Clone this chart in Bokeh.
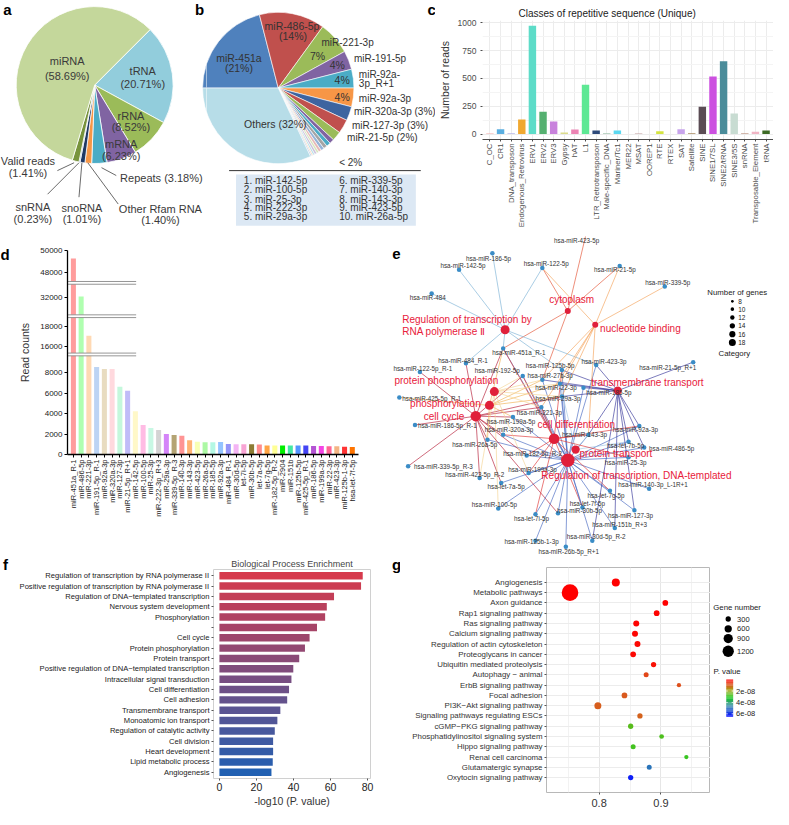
import numpy as np
from bokeh.plotting import figure
from bokeh.models import Range1d, FactorRange, FixedTicker, ColumnDataSource, LinearColorMapper
from bokeh.layouts import row, column
from bokeh.core.properties import value
from bokeh.embed import file_html
from bokeh.resources import INLINE

FONT = "Liberation Sans"
TXT = "#333333"

# ================= DATA =================
a_labels = ["tRNA", "rRNA", "mRNA", "Repeats", "Other Rfam RNA", "snoRNA", "snRNA", "Valid reads", "miRNA"]
a_values = [20.71, 8.52, 6.23, 3.18, 1.40, 1.01, 0.23, 1.41, 58.69]
a_colors = ["#92cddc", "#9bbb59", "#8064a2", "#4bacc6", "#f79646", "#1f3864", "#4f81bd", "#77933c", "#c4d79b"]

b_labels = ["miR-451a", "miR-486-5p", "miR-221-3p", "miR-191-5p", "miR-92a-3p_R+1", "miR-92a-3p",
            "miR-320a-3p", "miR-127-3p", "miR-21-5p",
            "miR-142-5p", "miR-100-5p", "miR-25-3p", "miR-222-3p", "miR-29a-3p",
            "miR-339-5p", "miR-140-3p", "miR-143-3p", "miR-423-5p", "miR-26a-5p", "Others"]
b_values = [21, 14, 7, 4, 4, 4, 3, 3, 2, 1.0, 0.9, 0.8, 0.7, 0.6, 0.5, 0.5, 0.4, 0.3, 0.3, 32]
b_colors = ["#4f81bd", "#c0504d", "#9bbb59", "#8064a2", "#4bacc6", "#f79646", "#3d64a0", "#c0504d",
            "#9bbb59", "#8064a2", "#4bacc6", "#a5a5a5", "#95b3d7", "#e6b9b8", "#d7e4bd", "#ccc1da",
            "#b7dee8", "#fcd5b5", "#b9cde5", "#b7dde8"]
b_list_left = ["1. miR-142-5p", "2. miR-100-5p", "3. miR-25-3p", "4. miR-222-3p", "5. miR-29a-3p"]
b_list_right = ["6. miR-339-5p", "7. miR-140-3p", "8. miR-143-3p", "9. miR-423-5p", "10. miR-26a-5p"]

c_classes = ["C_OC", "CR1", "DNA_transposon", "Endogenous_Retrovirus", "ERV1", "ERV2", "ERV3", "Gypsy", "hAT",
             "L1", "LTR_Retrotransposon", "Male-specific_DNA", "Mariner/Tc1", "MER22", "MSAT", "OOREP1", "RTE",
             "RTEX", "SAT", "Satellite", "SINE", "SINE1/7SL", "SINE2/tRNA", "SINE3/5S", "snRNA",
             "Transposable_Element", "tRNA"]
c_values = [5, 44, 8, 132, 972, 200, 112, 15, 41, 444, 33, 8, 33, 0, 5, 0, 25, 0, 44, 8, 245, 518, 654, 185, 8, 20, 33]
c_colors = ["#f4a6a6", "#5aaee0", "#b8b8e8", "#f0a830", "#5ddcc8", "#55b070", "#c882dc", "#dcdc8c", "#ec84b4",
            "#5ee894", "#2e4a7a", "#a8c8b4", "#5cd8f0", "#cccccc", "#c09a9a", "#cccccc", "#d4e440", "#cccccc",
            "#c8a4ec", "#a88a60", "#5a4c54", "#cc50e0", "#4a8c9a", "#c8dcd2", "#c4a090", "#f0b4c4", "#3c6a24"]

d_names = ["miR-451a_R-1", "miR-486-5p", "miR-221-3p", "miR-191-5p_R-1", "miR-92a-3p", "miR-320a-3p",
           "miR-127-3p", "miR-21-5p_R+1", "miR-142-5p", "miR-100-5p", "miR-25-3p", "miR-222-3p_R+3",
           "miR-29a-3p", "miR-339-5p_R-3", "miR-140-3p", "miR-143-3p", "miR-423-5p", "miR-26a-5p",
           "miR-185-5p", "miR-92a-3p", "miR-484_R-1", "miR-30d-5p", "let-7i-5p", "miR-30b-5p", "let-7a-5p",
           "let-7g-5p", "miR-182-5p_R-2", "miR-2904", "miR-151b", "miR-125b-5p", "miR-425-5p_R-1",
           "miR-186-5p", "miR-199a-3p", "miR-22-3p", "miR-423-3p", "miR-125b-1-3p", "hsa-let-7f-5p"]
d_values = [49270, 32100, 17050, 8560, 8370, 8370, 6630, 6250, 4230, 2900, 2600, 2400, 2020, 1920, 1830,
            1400, 1260, 1190, 1190, 1230, 1030, 1000, 1000, 1000, 970, 870, 870, 870, 870, 870, 870, 840,
            840, 800, 800, 770, 740]
d_colors = ["#ff9c9c", "#b0ffb0", "#ffd9b3", "#bcd4f4", "#e8dcc0", "#ffd9de", "#c4f8dc", "#c0bcf8", "#fff8c8",
            "#ffbce4", "#c8f8e4", "#d4d4d4", "#d484f8", "#b4a474", "#ff9494", "#ffb474", "#f8ffb4", "#acf8a4",
            "#b4f8e4", "#94c4ff", "#9494f8", "#f4b4f4", "#f8a4d4", "#8c7c34", "#ff8c8c", "#ffa444", "#ffff94",
            "#00ee00", "#44e8a4", "#5494ff", "#4444f4", "#b454d4", "#f444e4", "#ff6494", "#f4b484", "#ff3434",
            "#ff7400"]
d_tick_vals = [0, 2000, 4000, 6000, 8000, 16000, 18000, 32000, 48000, 50000]

e_cat_names = ["cytoplasm", "nucleotide binding", "Regulation of transcription by RNA polymerase Ⅱ",
               "protein phosphorylation", "transmembrane transport", "phosphorylation", "cell cycle",
               "cell differentiation", "protein transport", "Regulation of transcription, DNA-templated"]
e_cat_genes = [8, 8, 12, 12, 11, 12, 14, 14, 11, 18]
e_mir_names = ["hsa-miR-423-5p", "hsa-miR-186-5p", "hsa-miR-142-5p", "hsa-miR-122-5p", "hsa-miR-21-5p",
               "hsa-miR-339-5p", "hsa-miR-484", "hsa-miR-451a_R-1", "hsa-miR-484_R-1", "hsa-miR-122-5p_R-1",
               "hsa-miR-192-5p", "hsa-miR-125b-5p", "hsa-miR-423-3p", "hsa-miR-21-5p_R+1", "hsa-miR-27b-3p",
               "hsa-miR-22-3p", "hsa-miR-185-5p", "hsa-miR-425-5p_R-1", "hsa-miR-29a-3p", "hsa-miR-221-3p",
               "hsa-miR-199a-5p", "hsa-miR-186-5p_R-1", "hsa-miR-320a-3p", "hsa-miR-143-3p", "hsa-miR-92a-3p",
               "hsa-miR-26a-5p", "hsa-let-7b-5p", "hsa-miR-486-5p", "hsa-miR-182-5p_R-2", "hsa-miR-25-3p",
               "hsa-miR-339-5p_R-3", "hsa-miR-199a-3p", "hsa-miR-423-5p_R-2", "hsa-let-7a-5p",
               "hsa-miR-140-3p_L-1R+1", "hsa-let-7g-5p", "hsa-miR-100-5p", "hsa-let-7f-5p", "hsa-miR-30b-5p",
               "hsa-miR-127-3p", "hsa-let-7i-5p", "hsa-miR-151b_R+3", "hsa-miR-125b-1-3p",
               "hsa-miR-30d-5p_R-2", "hsa-miR-26b-5p_R+1"]
e_mir_targets = [[0], [2], [2], [2, 0, 1], [0, 1], [1], [2], [2, 6, 5, 9, 7, 0], [2, 6], [6], [3, 9, 6, 7],
                 [2, 9, 7, 4], [2, 4, 9], [4], [3, 5, 9, 4, 1, 0], [3, 5, 9, 8, 4, 1], [4, 9], [5],
                 [3, 5, 6, 9, 4, 1], [6, 3, 9, 7, 1], [6, 5, 9], [6], [6, 7, 9], [7, 9, 8, 4, 1], [4, 9, 7],
                 [6, 5, 9], [4, 9, 8], [4, 9], [9, 7, 6], [9, 7], [6], [9, 3, 7], [6, 3], [9, 6], [9], [9, 7],
                 [9, 3], [9, 7], [9, 6], [9, 4], [9, 7], [9, 4], [9], [9, 4], [9]]
e_legend_genes = [8, 10, 12, 14, 16, 18]

f_terms = ["Regulation of transcription by RNA polymerase II",
           "Positive regulation of transcription by RNA polymerase II",
           "Regulation of DNA\u2212templated transcription", "Nervous system development", "Phosphorylation", "",
           "Cell cycle", "Protein phosphorylation", "Protein transport",
           "Positive regulation of DNA\u2212templated transcription", "Intracellular signal transduction",
           "Cell differentiation", "Cell adhesion", "Transmembrane transport", "Monoatomic ion transport",
           "Regulation of catalytic activity", "Cell division", "Heart development", "Lipid metabolic process",
           "Angiogenesis"]
f_values = [77.4, 76.5, 61.9, 58.0, 57.1, 52.7, 48.7, 46.2, 43.1, 39.9, 38.9, 37.6, 36.6, 32.9, 31.3, 29.9,
            29.0, 29.0, 28.8, 28.1]
f_ticks = [0, 20, 40, 60, 80]

g_terms = ["Angiogenesis", "Metabolic pathways", "Axon guidance", "Rap1 signaling pathway",
           "Ras signaling pathway", "Calcium signaling pathway", "Regulation of actin cytoskeleton",
           "Proteoglycans in cancer", "Ubiquitin mediated proteolysis", "Autophagy \u2212 animal",
           "ErbB signaling pathway", "Focal adhesion", "PI3K\u2212Akt signaling pathway",
           "Signaling pathways regulating ESCs", "cGMP\u2212PKG signaling pathway",
           "Phosphatidylinositol signaling system", "Hippo signaling pathway", "Renal cell carcinoma",
           "Glutamatergic synapse", "Oxytocin signaling pathway"]
g_ratio = [0.827, 0.753, 0.907, 0.893, 0.860, 0.858, 0.862, 0.855, 0.888, 0.876, 0.929, 0.841, 0.798,
           0.866, 0.851, 0.901, 0.855, 0.941, 0.881, 0.851]
g_genes = [705, 2000, 360, 360, 405, 405, 405, 360, 300, 255, 150, 360, 555, 300, 300, 210, 255, 150, 255, 300]
g_pval = [1e-10, 1e-12, 2e-10, 3e-10, 5e-10, 6e-10, 8e-10, 1e-9, 2e-9, 7e-9, 8e-9, 9e-9, 9.5e-9, 1.0e-8,
          2.6e-8, 2.7e-8, 2.8e-8, 2.9e-8, 5.0e-8, 6.3e-8]
g_size_breaks = [300, 600, 900, 1200]
g_p_ticks = [2e-8, 4e-8, 6e-8]
g_p_labels = ["2e-08", "4e-08", "6e-08"]


# ================= HELPERS =================
def fig(**kw):
    p = figure(output_backend="svg", toolbar_location=None, **kw)
    p.frame_align = False
    return p


def blank(w, h, xr, yr):
    p = fig(width=w, height=h, x_range=Range1d(*xr), y_range=Range1d(*yr),
            x_axis_location=None, y_axis_location=None, min_border=0,
            min_border_left=0, min_border_right=0, min_border_top=0, min_border_bottom=0)
    p.grid.visible = False
    p.outline_line_color = None
    return p


def text(p, x, y, t, size, color=TXT, align="center", baseline="middle", style="normal"):
    p.text(x=list(x), y=list(y), text=list(t), text_font=value(FONT), text_font_size=size,
           text_color=color, text_align=align, text_baseline=baseline, text_font_style=style)


def letter(p, x, y, t):
    text(p, [x], [y], [t], "15px", "black", style="bold")


def style_axis(ax, size, color=TXT):
    ax.major_label_text_font = FONT
    ax.major_label_text_font_size = size
    ax.major_label_text_color = color
    ax.axis_label_text_font = FONT
    ax.axis_label_text_font_style = "normal"
    ax.axis_label_text_color = TXT
    ax.minor_tick_line_color = None


def hex2rgb(h):
    return [int(h[i:i + 2], 16) for i in (1, 3, 5)]


def make_palette(stops, n=256):
    pos = [s[0] for s in stops]
    cols = np.array([hex2rgb(s[1]) for s in stops], float)
    out = []
    for t in np.linspace(0, 1, n):
        c = [int(round(np.interp(t, pos, cols[:, k]))) for k in range(3)]
        out.append("#%02x%02x%02x" % tuple(c))
    return out


# ================= PANELS A + B =================
HA = 240.0
pa = blank(206, 236, (0, 210), (0, HA))
pb = blank(229, 236, (210, 443), (0, HA))

fa = np.array(a_values) / np.sum(a_values)
a_end = 45 - np.cumsum(fa) * 360
a_start = np.concatenate([[45.0], a_end[:-1]])
pa.wedge(x=96, y=HA - 86, radius=80, start_angle=np.radians(a_start), end_angle=np.radians(a_end),
         direction="clock", fill_color=a_colors, line_color="white", line_width=0.8)
a_txt = [("miRNA", 68, 62), ("(58.69%)", 68, 77), ("tRNA", 145, 72), ("(20.71%)", 145, 85),
         ("rRNA", 133, 117), ("(8.52%)", 133, 129), ("mRNA", 123, 146), ("(6.23%)", 123, 158),
         ("Valid reads", 28, 163), ("(1.41%)", 28, 175), ("snRNA", 33, 210), ("(0.23%)", 33, 222),
         ("snoRNA", 83, 211), ("(1.01%)", 83, 222), ("(1.40%)", 163, 223),
         ("Repeats (3.18%)", 164, 181), ("Other Rfam RNA", 163, 212)]
text(pa, [t[1] for t in a_txt], [HA - t[2] for t in a_txt], [t[0] for t in a_txt], "11px", "#3a3a3a")
a_lead = [(58, 173, 75, 165), (48, 197, 80, 165), (80, 200, 83, 165), (120, 207, 89, 165), (118, 178, 103, 170)]
pa.segment(x0=[s[0] for s in a_lead], y0=[HA - s[1] for s in a_lead], x1=[s[2] for s in a_lead],
           y1=[HA - s[3] for s in a_lead], line_color="#444444", line_width=0.8)
letter(pa, 7, HA - 9, "a")
letter(pa, 203, HA - 9, "b")

fb = np.array(b_values) / np.sum(b_values)
b_end = 180 - np.cumsum(fb) * 360
b_start = np.concatenate([[180.0], b_end[:-1]])
for p_ in (pa, pb):
    p_.wedge(x=283, y=HA - 89, radius=77, start_angle=np.radians(b_start), end_angle=np.radians(b_end),
             direction="clock", fill_color=b_colors, line_color="white", line_width=0.6)
b_txt_c = [("miR-451a", 243, 58), ("(21%)", 243, 69), ("miR-486-5p", 297, 26), ("(14%)", 298, 36),
           ("7%", 323, 56), ("4%", 343, 66), ("4%", 348, 81), ("4%", 348, 98), ("Others (32%)", 280, 126)]
text(pb, [t[1] for t in b_txt_c], [HA - t[2] for t in b_txt_c], [t[0] for t in b_txt_c], "10.5px", "#333333")
b_txt_l = [("miR-221-3p", 327, 43), ("miR-191-5p", 360, 59), ("miR-92a-", 365, 75), ("3p_R+1", 365, 84),
           ("miR-92a-3p", 365, 100), ("miR-320a-3p (3%)", 360, 113), ("miR-127-3p (3%)", 358, 127),
           ("miR-21-5p (2%)", 353, 139), ("< 2%", 345, 165)]
text(pb, [t[1] for t in b_txt_l], [HA - t[2] for t in b_txt_l], [t[0] for t in b_txt_l], "10px", "#333333",
     align="left")
pb.segment(x0=[233], y0=[HA - 173], x1=[428], y1=[HA - 173], line_color="#333333", line_width=1)
pb.quad(left=[240], right=[423], top=[HA - 177], bottom=[HA - 229], fill_color="#dce8f4", line_color=None)
rows_y = [183, 192, 202, 211, 220]
text(pb, [248] * 5, [HA - y for y in rows_y], b_list_left, "10px", "#333333", align="left")
text(pb, [345] * 5, [HA - y for y in rows_y], b_list_right, "10px", "#333333", align="left")
letter(pb, 439, HA - 9, "c")

# ================= PANEL C =================
pc = fig(width=338, height=236,
         x_range=FactorRange(factors=c_classes, range_padding=0.2, range_padding_units="absolute"),
         y_range=Range1d(-48.6, 1020),
         min_border_left=46, min_border_right=0, min_border_top=20, min_border_bottom=97,
         title="Classes of repetitive sequence (Unique)")
pc.title.text_font = FONT
pc.title.text_font_size = "10px"
pc.title.text_font_style = "normal"
pc.title.text_color = "#222222"
pc.title.align = "left"
pc.title.offset = 36
pc.title.standoff = 3
pc.outline_line_color = None
pc.vbar(x=c_classes, top=c_values, width=0.7, fill_color=c_colors, line_color=None)
pc.yaxis.ticker = FixedTicker(ticks=[0, 250, 500, 750, 1000], minor_ticks=[125, 375, 625, 875])
pc.xgrid.grid_line_color = "#ececec"
pc.ygrid.grid_line_color = "#ececec"
pc.ygrid.minor_grid_line_color = "#f4f4f4"
style_axis(pc.yaxis[0], "8.5px", "#4d4d4d")
style_axis(pc.xaxis[0], "7.8px", "#4d4d4d")
pc.yaxis.axis_line_color = None
pc.yaxis.major_tick_out = 2
pc.yaxis.major_tick_in = 0
pc.yaxis.major_tick_line_color = "#4d4d4d"
pc.yaxis.axis_label = "Number of reads"
pc.yaxis.axis_label_text_font_size = "10.5px"
pc.yaxis.axis_label_standoff = 4
pc.yaxis.major_label_standoff = 2
pc.xaxis.major_label_orientation = np.pi / 2
pc.xaxis.axis_line_color = "#4d4d4d"
pc.xaxis.major_tick_line_color = "#4d4d4d"
pc.xaxis.major_tick_out = 2
pc.xaxis.major_tick_in = 0
pc.xaxis.major_label_standoff = 2

# ================= PANEL D =================
d_break_vals = [0, 9800, 15240, 18950, 30190, 33430, 47000, 50000]
d_break_disp = [0, 102, 102, 141, 141, 175, 175, 208]


def dmap(v):
    return np.interp(np.asarray(v, float), d_break_vals, d_break_disp)


pdl = blank(10, 320, (0, 10), (566, 240))
letter(pdl, 4.5, 258, "d")

pdd = fig(width=380, height=320, x_range=Range1d(-0.76, 36.8), y_range=Range1d(0, 208),
          min_border_left=57, min_border_right=32, min_border_top=14, min_border_bottom=102)
pdd.grid.visible = False
pdd.outline_line_color = None
d_idx = list(range(len(d_names)))
pdd.vbar(x=d_idx, top=dmap(d_values), width=0.65, fill_color=d_colors, line_color=None)
for b in [102, 141, 175]:
    pdd.quad(left=[-0.76], right=[8.1], bottom=[b - 1.4], top=[b + 1.4], fill_color="white", line_color=None)
    pdd.segment(x0=[-0.76, -0.76], y0=[b - 1.4, b + 1.4], x1=[8.1, 8.1], y1=[b - 1.4, b + 1.4],
                line_color="#8a8a8a", line_width=0.9)
d_tick_pos = [round(float(v), 3) for v in dmap(d_tick_vals)]
pdd.yaxis.ticker = FixedTicker(ticks=d_tick_pos)
pdd.yaxis.major_label_overrides = {pos: str(v) for pos, v in zip(d_tick_pos, d_tick_vals)}
pdd.xaxis.ticker = FixedTicker(ticks=d_idx)
pdd.xaxis.major_label_overrides = {i: n for i, n in enumerate(d_names)}
style_axis(pdd.yaxis[0], "8px", "#222222")
style_axis(pdd.xaxis[0], "7.5px", "#222222")
pdd.xaxis.major_label_orientation = np.pi / 2
pdd.axis.axis_line_color = "black"
pdd.axis.axis_line_width = 1.3
pdd.axis.major_tick_line_color = "black"
pdd.axis.major_tick_out = 3
pdd.axis.major_tick_in = 0
pdd.xaxis.major_label_standoff = 2
pdd.yaxis.major_label_standoff = 2
pdd.yaxis.axis_label = "Read counts"
pdd.yaxis.axis_label_text_font_size = "10.5px"
pdd.yaxis.axis_label_standoff = 6

# ================= PANEL E =================
pe = blank(383, 320, (398, 789), (566, 240))
e_cat_xy = [(579, 316), (607, 330), (515, 335), (504, 398), (630, 397), (499, 412), (485, 423), (565, 446),
            (587, 457), (579, 468)]
e_cat_edge = ["#e4583a", "#f4a660", "#80b4d6", "#f5d596", "#3c3c9c", "#f2b45a", "#b8223c", "#e03a3a",
              "#a4c8e6", "#4a6cc2"]
e_mir_xy = [(598, 236), (502, 257), (468, 274), (553, 272), (632, 270), (678, 291), (440, 298), (513, 354),
            (475, 369), (428, 378), (533, 382), (573, 376), (608, 371), (707, 368), (553, 386), (571, 390),
            (595, 394), (407, 404), (573, 403), (552, 414), (523, 424), (423, 432), (513, 442), (600, 442),
            (652, 433), (497, 447), (641, 449), (657, 455), (537, 463), (641, 465), (416, 474), (539, 481),
            (489, 486), (511, 491), (662, 497), (622, 499), (508, 517), (594, 516), (569, 522), (647, 519),
            (546, 523), (627, 537), (546, 550), (604, 550), (577, 556)]
e_mir_lab = [(588, 244), (498, 262), (472, 270), (557, 268), (627, 274), (681, 287), (436, 302), (529, 358),
             (472, 366), (431, 374), (507, 377), (561, 371), (616, 367), (681, 373), (561, 382), (567, 394),
             (621, 399), (440, 405), (569, 405), (550, 419), (521, 428), (456, 433), (519, 437), (596, 442),
             (648, 437), (484, 452), (638, 453), (685, 456), (543, 461), (638, 470), (452, 474), (543, 477),
             (484, 482), (516, 495), (666, 493), (618, 504), (504, 513), (599, 512), (591, 519), (643, 524),
             (542, 527), (632, 533), (542, 551), (608, 546), (580, 561)]
ex0, ey0, ex1, ey1, ecol = [], [], [], [], []
for i, tg in enumerate(e_mir_targets):
    for c in tg:
        ex0.append(e_cat_xy[c][0]); ey0.append(e_cat_xy[c][1])
        ex1.append(e_mir_xy[i][0]); ey1.append(e_mir_xy[i][1])
        ecol.append(e_cat_edge[c])
pe.segment(x0=ex0, y0=ey0, x1=ex1, y1=ey1, line_color=ecol, line_width=0.9, line_alpha=0.75)
pe.scatter(x=[m[0] for m in e_mir_xy], y=[m[1] for m in e_mir_xy], size=4.5, fill_color="#3a8cc6",
           line_color=None)
pe.scatter(x=[c[0] for c in e_cat_xy], y=[c[1] for c in e_cat_xy], size=[0.75 * g for g in e_cat_genes],
           fill_color="#e0203a", line_color=None)
text(pe, [m[0] for m in e_mir_lab], [m[1] for m in e_mir_lab], e_mir_names, "6.3px", "#333333")
e_cat_lab = [("cytoplasm", 560, 304), ("nucleotide binding", 612, 334), ("Regulation of transcription by", 410, 325),
             ("RNA polymerase Ⅱ", 410, 337), ("protein phosphorylation", 402, 387),
             ("transmembrane transport", 603, 389), ("phosphorylation", 418, 410), ("cell cycle", 432, 423),
             ("cell differentiation", 548, 432), ("protein transport", 591, 461),
             ("Regulation of transcription, DNA-templated", 552, 483)]
text(pe, [t[1] for t in e_cat_lab], [t[2] for t in e_cat_lab], [t[0] for t in e_cat_lab], "10px", "#e8203a",
     align="left")
leg_y = [306, 314, 322.5, 331, 339.5, 348]
pe.scatter(x=[747] * 6, y=leg_y, size=[2.7 + (g - 8) * 0.43 for g in e_legend_genes], fill_color="black",
           line_color=None)
text(pe, [753] * 6, leg_y, [str(g) for g in e_legend_genes], "6.5px", "#222222", align="left")
text(pe, [752], [297], ["Number of genes"], "7.8px", "#222222")
text(pe, [749], [359], ["Category"], "7.8px", "#222222")
letter(pe, 404, 258, "e")

# ================= PANEL F =================
pfl = blank(10, 253, (0, 10), (825, 566))
letter(pfl, 5, 574, "f")

pf = fig(width=380, height=253, x_range=Range1d(-3.2, 81.6), y_range=Range1d(19.6, -0.6),
         title="Biological Process Enrichment",
         min_border_left=203, min_border_right=20, min_border_top=13, min_border_bottom=31)
pf.title.text_font = FONT
pf.title.text_font_size = "9px"
pf.title.text_font_style = "normal"
pf.title.align = "center"
pf.title.standoff = 1
pf.grid.visible = False
pf.outline_line_color = "#d0d0d0"
f_idx = list(range(len(f_terms)))
f_top = np.array([214, 58, 76])
f_bot = np.array([33, 96, 178])
f_colors = ["#%02x%02x%02x" % tuple(int(round(c)) for c in f_top * (1 - t) + f_bot * t)
            for t in np.linspace(0, 1, len(f_terms))]
pf.hbar(y=f_idx, left=0, right=f_values, height=0.72, fill_color=f_colors, line_color=None)
pf.yaxis.ticker = FixedTicker(ticks=f_idx)
pf.yaxis.major_label_overrides = {i: t for i, t in enumerate(f_terms)}
pf.xaxis.ticker = FixedTicker(ticks=f_ticks)
style_axis(pf.yaxis[0], "7.6px", "#222222")
style_axis(pf.xaxis[0], "10.5px", "#222222")
pf.axis.axis_line_color = None
pf.axis.major_tick_line_color = "#555555"
pf.axis.major_tick_out = 2
pf.axis.major_tick_in = 0
pf.axis.major_label_standoff = 2
pf.xaxis.axis_label = "-log10 (P. value)"
pf.xaxis.axis_label_text_font_size = "10.5px"
pf.xaxis.axis_label_standoff = 1

# ================= PANEL G =================
g_palette = make_palette([(0.0, "#ff0000"), (0.13, "#dc561e"), (0.28, "#a8a414"), (0.48, "#22cc22"),
                          (0.75, "#2c7cb4"), (1.0, "#0a14ff")])
g_mapper = LinearColorMapper(palette=g_palette, low=0, high=6.5e-8)
s0, s1 = 5.3, 11.3


def gsize(n):
    return s0 + (np.asarray(n, float) - g_size_breaks[0]) * (s1 - s0) / (g_size_breaks[-1] - g_size_breaks[0])


pgll = blank(10, 253, (398, 408), (825, 566))
letter(pgll, 404, 574, "g")

ng = len(g_terms)
g_pos = [ng - 1 - i for i in range(ng)]
pg = fig(width=310, height=253, x_range=Range1d(0.715, 0.98), y_range=Range1d(-1.45, ng - 1 + 1.45),
         min_border_left=146, min_border_right=0, min_border_top=11, min_border_bottom=17)
pg.outline_line_color = "#b8b8b8"
g_src = ColumnDataSource(dict(x=g_ratio, y=g_pos, s=gsize(g_genes), p=g_pval))
pg.scatter(x="x", y="y", size="s", source=g_src, fill_color={"field": "p", "transform": g_mapper},
           line_color=None)
pg.xaxis.ticker = FixedTicker(ticks=[0.8, 0.9], minor_ticks=[0.75, 0.85, 0.95])
pg.yaxis.ticker = FixedTicker(ticks=sorted(g_pos))
pg.yaxis.major_label_overrides = {pos: t for pos, t in zip(g_pos, g_terms)}
pg.xgrid.grid_line_color = "#e6e6e6"
pg.xgrid.minor_grid_line_color = "#f2f2f2"
pg.ygrid.grid_line_color = "#ececec"
style_axis(pg.yaxis[0], "7.9px", "#333333")
style_axis(pg.xaxis[0], "11px", "#333333")
pg.axis.axis_line_color = None
pg.axis.major_tick_line_color = "#555555"
pg.axis.major_tick_out = 2
pg.axis.major_tick_in = 0
pg.axis.major_label_standoff = 2

pgl = blank(63, 253, (725, 789), (825, 566))
sz_y = [630, 640, 650, 663]
pgl.scatter(x=[743] * 4, y=sz_y, size=gsize(g_size_breaks), fill_color="black", line_color=None)
text(pgl, [752] * 4, sz_y, [str(v) for v in g_size_breaks], "7.5px", "#222222", align="left")
text(pgl, [752], [618], ["Gene number"], "7.8px", "#222222")
text(pgl, [728], [684], ["P. value"], "7.8px", "#222222", align="left")
cb_top, cb_bot, nseg = 692.0, 730.0, 40
edges = np.linspace(cb_top, cb_bot, nseg + 1)
seg_cols = [g_palette[int(round(k / (nseg - 1) * 255))] for k in range(nseg)]
pgl.quad(left=741, right=748, top=edges[:-1], bottom=edges[1:] + 0.05, fill_color=seg_cols, line_color=None)
tick_y = [cb_top + v / 6.5e-8 * (cb_bot - cb_top) for v in g_p_ticks]
pgl.segment(x0=[741] * 3, x1=[742.5] * 3, y0=tick_y, y1=tick_y, line_color="white", line_width=0.8)
pgl.segment(x0=[746.5] * 3, x1=[748] * 3, y0=tick_y, y1=tick_y, line_color="white", line_width=0.8)
text(pgl, [751] * 3, tick_y, g_p_labels, "7.5px", "#222222", align="left")

# ================= LAYOUT =================
layout = column(row(pa, pb, pc, spacing=0),
                row(pdl, pdd, pe, spacing=0),
                row(pfl, pf, pgll, pg, pgl, spacing=0), spacing=0)
open("out.html", "w").write(file_html(layout, INLINE))
